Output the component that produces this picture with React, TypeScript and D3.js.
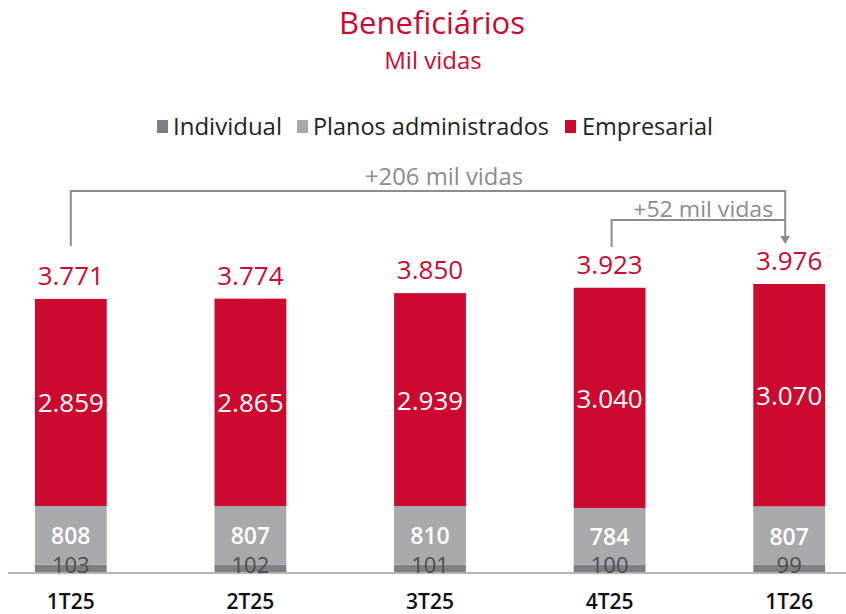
import React from "react";
import * as d3 from "d3";

const categories = ["1T25", "2T25", "3T25", "4T25", "1T26"];
const individual = [103, 102, 101, 100, 99];
const planos = [808, 807, 810, 784, 807];
const empresarial = [2859, 2865, 2939, 3040, 3070];
const totals = [3771, 3774, 3850, 3923, 3976];
const seriesNames = ["Individual", "Planos administrados", "Empresarial"];
const seriesKeys = ["individual", "planos", "empresarial"];
const seriesColors = ["#7f7f83", "#a8a9ad", "#cc0a2f"];
const annotations = [
  { from: 0, to: 4, text: "+206 mil vidas" },
  { from: 3, to: 4, text: "+52 mil vidas" },
];

const W = 846;
const H = 614;
const RED = "#cc0a2f";
const FONT = "'Open Sans', 'Noto Sans', sans-serif";

const locale = d3.formatLocale({ decimal: ",", thousands: ".", grouping: [3], currency: ["R$", ""] });
const fmt = locale.format(",d");

export default function App() {
  const data = categories.map((c, i) => ({
    cat: c,
    individual: individual[i],
    planos: planos[i],
    empresarial: empresarial[i],
    total: totals[i],
  }));
  const stack = d3.stack<any>().keys(seriesKeys)(data);
  const x = d3.scaleBand().domain(categories).range([-19, 879]).paddingInner(0.6).paddingOuter(0.3);
  const y = d3.scaleLinear().domain([0, 3976]).range([572, 284]);
  const bw = x.bandwidth();
  const cx = (i: number) => (x(categories[i]) as number) + bw / 2;

  const legendItems = [
    { sq: 157, tx: 173, w: 109 },
    { sq: 297, tx: 313, w: 236 },
    { sq: 565, tx: 582, w: 131 },
  ];

  const ann0 = annotations[0];
  const ann1 = annotations[1];
  const rx = cx(ann0.to) - 4;
  const y0 = 191;
  const y1 = 220;

  return (
    <svg width={W} height={H} style={{ position: "absolute", left: 0, top: 0, background: "#fff" }} fontFamily={FONT}>
      <text x={432} y={34} textAnchor="middle" fontSize={31} fill={RED}>Beneficiários</text>
      <text x={433} y={69} textAnchor="middle" fontSize={24} fill={RED}>Mil vidas</text>

      {seriesNames.map((n, i) => (
        <g key={n}>
          <rect x={legendItems[i].sq} y={120} width={11} height={13} fill={seriesColors[i]} />
          <text x={legendItems[i].tx} y={135} fontSize={23} fill="#222" textLength={legendItems[i].w} lengthAdjust="spacingAndGlyphs">{n}</text>
        </g>
      ))}

      {stack.map((s, si) => (
        <g key={si}>
          {s.map((d, i) => (
            <rect key={i} x={x(categories[i])} y={y(d[1])} width={bw} height={y(d[0]) - y(d[1])} fill={seriesColors[si]} />
          ))}
        </g>
      ))}

      <line x1={8} x2={846} y1={573} y2={573} stroke="#b5b5b5" strokeWidth={2} />

      {data.map((d, i) => (
        <g key={i} textAnchor="middle">
          <text x={cx(i)} y={y(d.total) - 14} fontSize={26} fill={RED}>{fmt(d.total)}</text>
          <text x={cx(i)} y={(y(stack[2][i][0]) + y(stack[2][i][1])) / 2 + 10} fontSize={26} fill="#fff">{fmt(d.empresarial)}</text>
          <text x={cx(i)} y={(y(stack[1][i][0]) + y(stack[1][i][1])) / 2 + 9} fontSize={23} fontWeight={600} fill="#fff">{fmt(d.planos)}</text>
          <text x={cx(i)} y={y(0) + 1} fontSize={22} fill="#4d4d4d">{fmt(d.individual)}</text>
          <text x={cx(i)} y={609} fontSize={21} fontWeight={600} fill="#111">{d.cat}</text>
        </g>
      ))}

      <g stroke="#8c8c8c" strokeWidth={2} fill="none">
        <path d={`M${cx(ann0.from)},246 V${y0} H${rx} V${236}`} />
        <path d={`M${cx(ann1.from) + 2},247 V${y1} H${rx}`} />
      </g>
      <path d={`M${rx - 5},236 L${rx + 5},236 L${rx},244 Z`} fill="#8c8c8c" />
      <text x={444} y={185} textAnchor="middle" fontSize={23} fill="#8c8c8c" textLength={158} lengthAdjust="spacingAndGlyphs">{ann0.text}</text>
      <text x={rx - 12} y={217} textAnchor="end" fontSize={22} fill="#8c8c8c" textLength={140} lengthAdjust="spacingAndGlyphs">{ann1.text}</text>
    </svg>
  );
}
